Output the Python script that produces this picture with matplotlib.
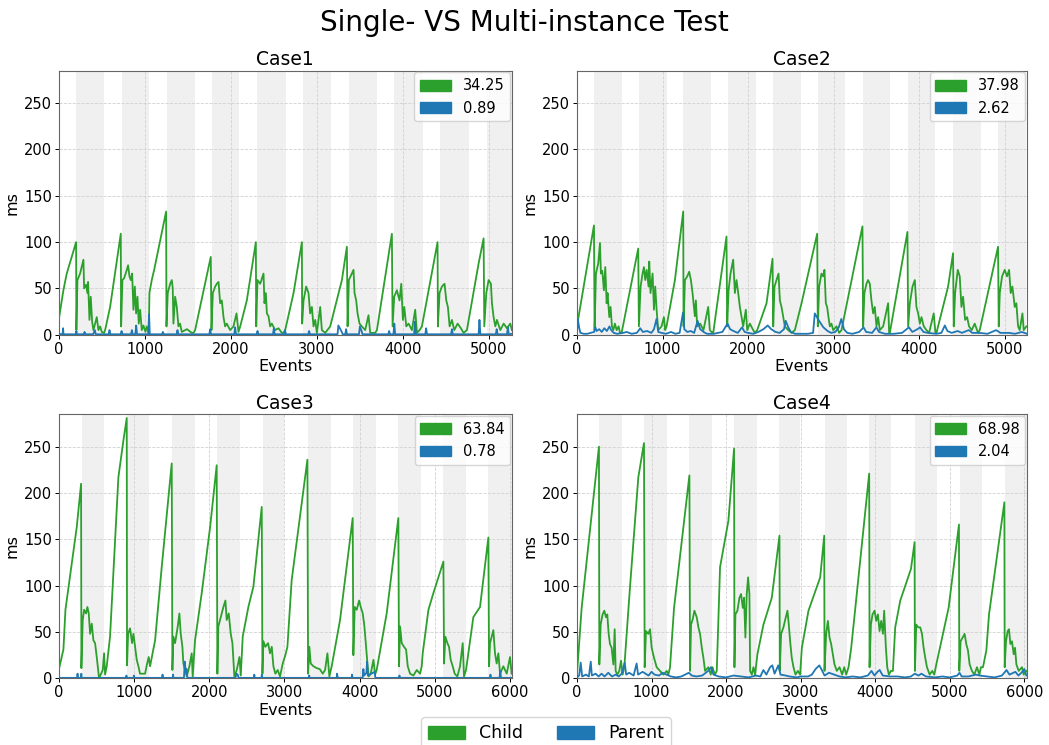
import matplotlib
matplotlib.use("Agg")
import matplotlib.pyplot as plt
from matplotlib.patches import Patch

# ---------------- data ----------------
CASES = ["Case1", "Case2", "Case3", "Case4"]
CHILD_MEAN = [34.25, 37.98, 63.84, 68.98]
PARENT_MEAN = [0.89, 2.62, 0.78, 2.04]
X_MAX = [5267, 5260, 6025, 6035]

case1_child = [
    (0, 16), (54, 48), (93, 66), (202, 100), (205, 5), (217, 59), (248, 66), (287, 81), (295, 50), (318, 54),
    (333, 45), (341, 57), (357, 16), (372, 41), (388, 14), (403, 5), (422, 12), (442, 19), (461, 5), (481, 9),
    (500, 3), (527, 2),
    (539, 5), (597, 30), (721, 109), (725, 9), (740, 59), (760, 61), (791, 70), (806, 75), (822, 63), (837, 59),
    (853, 66), (868, 27), (884, 52), (899, 23), (915, 41), (930, 12), (946, 27), (965, 5), (984, 10), (1008, 3),
    (1023, 9), (1047, 2),
    (1054, 45), (1081, 59), (1109, 70), (1248, 133), (1252, 9), (1267, 45), (1295, 55), (1314, 59), (1325, 50),
    (1333, 12), (1353, 41), (1372, 30), (1391, 9), (1410, 12), (1430, 3), (1490, 6), (1547, 2), (1566, 2),
    (1585, 5), (1767, 84), (1775, 5), (1791, 45), (1818, 52), (1837, 55), (1857, 57), (1876, 34), (1895, 37),
    (1915, 19), (1934, 9), (1953, 12), (1992, 5), (2031, 9), (2066, 23), (2089, 3),
    (2109, 9), (2186, 37), (2291, 100), (2295, 9), (2310, 59), (2341, 55), (2380, 66), (2391, 34), (2407, 45),
    (2419, 23), (2438, 20), (2457, 9), (2477, 12), (2515, 5), (2554, 7), (2593, 2), (2612, 2),
    (2632, 5), (2729, 45), (2826, 100), (2829, 12), (2845, 37), (2876, 52), (2903, 45), (2922, 23), (2942, 30),
    (2961, 9), (2981, 16), (3000, 2), (3039, 30), (3058, 5), (3097, 2),
    (3155, 9), (3291, 59), (3349, 95), (3357, 9), (3372, 59), (3407, 66), (3426, 70), (3438, 45), (3457, 37),
    (3473, 23), (3496, 12), (3523, 9), (3562, 5), (3600, 21), (3620, 2), (3678, 2),
    (3698, 5), (3872, 109), (3880, 9), (3899, 41), (3930, 48), (3961, 37), (3981, 55), (4000, 16), (4016, 30),
    (4039, 9), (4066, 12), (4105, 5), (4143, 27), (4163, 2), (4194, 5),
    (4221, 9), (4403, 100), (4407, 9), (4426, 45), (4453, 52), (4484, 55), (4504, 37), (4523, 30), (4543, 9),
    (4570, 16), (4597, 5), (4636, 12), (4674, 7), (4705, 2),
    (4744, 5), (4880, 77), (4938, 104), (4946, 9), (4969, 45), (4996, 59), (5023, 55), (5035, 34), (5054, 19),
    (5074, 9), (5093, 16), (5132, 5), (5171, 12), (5209, 7), (5248, 12), (5267, 5),
]
case1_parent = [
    (0, 1), (45, 0.5), (50, 7), (55, 0.5), (200, 0.5), (205, 4), (210, 0.5), (290, 0.5), (300, 3), (310, 0.5),
    (400, 0.5), (420, 5), (430, 0.5), (580, 0.5), (590, 5), (600, 0.5), (720, 0.5), (730, 4), (740, 0.5),
    (840, 0.5), (850, 5), (860, 0.5), (890, 0.5), (900, 10), (910, 0.5), (1040, 0.5), (1050, 22), (1058, 0.5),
    (1200, 0.5), (1210, 3), (1220, 0.5), (1370, 0.5), (1380, 5), (1390, 0.5), (1750, 0.5), (1760, 6), (1770, 0.5),
    (2040, 0.5), (2050, 8), (2060, 0.5), (2300, 0.5), (2310, 4), (2320, 0.5), (2490, 0.5), (2500, 7), (2510, 0.5),
    (2620, 0.5), (2630, 5), (2640, 0.5), (2900, 0.5), (2910, 4), (2920, 0.5), (3240, 0.5), (3250, 10), (3290, 3),
    (3300, 0.5), (3330, 0.5), (3340, 6), (3350, 0.5), (3490, 0.5), (3500, 9), (3520, 4), (3530, 0.5), (3830, 0.5),
    (3840, 4), (3850, 0.5), (3890, 0.5), (3900, 12), (3910, 0.5), (4130, 0.5), (4140, 14), (4150, 0.5),
    (4260, 0.5), (4270, 7), (4280, 0.5), (4560, 0.5), (4570, 6), (4580, 0.5), (4880, 0.5), (4890, 16), (4900, 0.5),
    (5080, 0.5), (5090, 6), (5100, 0.5), (5210, 0.5), (5220, 8), (5230, 0.5), (5267, 1),
]

case2_child = [
    (0, 9), (199, 118), (206, 5), (222, 66), (249, 77), (269, 99), (280, 66), (296, 69), (315, 48), (331, 73),
    (347, 34), (358, 45), (378, 19), (393, 30), (409, 9), (425, 5), (444, 12), (464, 5), (487, 9), (503, 2),
    (522, 2), (716, 93), (724, 9), (744, 52), (767, 66), (783, 73), (798, 59), (815, 70), (837, 52), (845, 79),
    (860, 45), (884, 66), (900, 27), (915, 52), (931, 27), (950, 5), (989, 9), (1016, 19), (1031, 5),
    (1047, 9), (1145, 59), (1242, 133), (1246, 9), (1262, 59), (1289, 63), (1312, 68), (1332, 59), (1351, 45),
    (1367, 30), (1378, 20), (1390, 37), (1405, 9), (1440, 12), (1479, 5), (1534, 30), (1553, 5), (1584, 2),
    (1593, 2), (1748, 106), (1756, 9), (1772, 48), (1795, 66), (1826, 81), (1846, 45), (1865, 59), (1885, 45),
    (1904, 30), (1924, 19), (1943, 9), (1974, 27), (1990, 5), (2021, 12), (2060, 5), (2080, 2),
    (2107, 5), (2216, 34), (2286, 82), (2294, 9), (2309, 52), (2333, 59), (2356, 66), (2372, 37), (2391, 30),
    (2411, 19), (2430, 9), (2469, 5), (2508, 2),
    (2547, 5), (2625, 34), (2808, 109), (2815, 9), (2831, 52), (2858, 66), (2878, 63), (2893, 70), (2909, 34),
    (2924, 30), (2940, 19), (2956, 9), (2975, 12), (2995, 5), (3034, 9), (3065, 2),
    (3092, 5), (3337, 117), (3345, 9), (3360, 45), (3384, 55), (3403, 59), (3423, 55), (3442, 37), (3462, 23),
    (3481, 30), (3501, 9), (3520, 19), (3540, 5), (3579, 9), (3637, 34), (3649, 2),
    (3657, 2), (3863, 111), (3871, 9), (3891, 34), (3922, 52), (3949, 59), (3968, 30), (3988, 23), (4008, 12),
    (4027, 19), (4054, 9), (4085, 5), (4116, 2), (4170, 23), (4190, 2),
    (4202, 2), (4338, 52), (4396, 88), (4404, 9), (4420, 45), (4451, 70), (4474, 63), (4494, 30), (4513, 41),
    (4537, 16), (4560, 19), (4583, 9), (4614, 5), (4649, 12), (4688, 2),
    (4708, 5), (4922, 95), (4930, 9), (4942, 45), (4969, 63), (5000, 70), (5027, 63), (5051, 70), (5070, 45),
    (5090, 52), (5117, 30), (5136, 34), (5156, 9), (5175, 5), (5207, 23), (5222, 5), (5253, 9),
]
case2_parent = [
    (0, 2), (10, 17), (25, 8), (40, 2), (80, 1), (120, 1), (200, 3), (215, 8), (230, 4), (260, 6), (290, 3),
    (320, 7), (350, 4), (380, 9), (400, 5), (430, 2), (470, 1), (540, 2), (580, 3), (640, 1), (700, 2), (740, 7),
    (770, 3), (820, 4), (870, 2), (900, 6), (930, 17), (950, 3), (990, 2), (1040, 1), (1100, 3), (1150, 1),
    (1200, 2), (1240, 24), (1255, 6), (1290, 3), (1330, 4), (1370, 2), (1410, 15), (1440, 6), (1480, 3),
    (1520, 1), (1600, 1), (1650, 2), (1700, 3), (1760, 12), (1790, 6), (1830, 4), (1880, 2), (1930, 8),
    (1960, 3), (2000, 2), (2060, 1), (2120, 3), (2180, 6), (2230, 10), (2270, 6), (2320, 3), (2370, 2),
    (2420, 6), (2440, 15), (2470, 8), (2500, 3), (2550, 1), (2620, 1), (2700, 1), (2760, 2), (2780, 23),
    (2830, 15), (2880, 8), (2930, 4), (2970, 2), (3020, 3), (3060, 8), (3090, 17), (3120, 6), (3160, 2),
    (3220, 1), (3300, 3), (3350, 8), (3380, 3), (3450, 2), (3500, 8), (3530, 3), (3600, 1), (3700, 1),
    (3800, 2), (3880, 8), (3920, 3), (3980, 6), (4010, 8), (4050, 3), (4100, 2), (4200, 1), (4260, 2),
    (4300, 10), (4330, 4), (4380, 2), (4450, 4), (4500, 2), (4580, 5), (4620, 2), (4700, 2), (4800, 1),
    (4900, 5), (4950, 2), (5050, 2), (5120, 1), (5200, 3), (5260, 1),
]

case3_child = [
    (0, 9), (62, 31), (89, 74), (239, 163), (297, 210), (301, 11), (319, 63), (337, 74), (363, 70), (381, 77),
    (399, 70), (417, 48), (439, 59), (461, 41), (483, 38), (505, 23), (523, 9), (536, 0), (563, 5), (585, 9),
    (603, 27), (616, 4),
    (638, 13), (682, 45), (793, 217), (860, 257), (904, 281), (908, 14), (922, 48), (948, 54), (975, 38),
    (993, 48), (1015, 34), (1037, 20), (1059, 13), (1081, 5), (1115, 5), (1148, 5), (1170, 14), (1196, 23),
    (1214, 13), (1281, 41), (1369, 120), (1502, 232), (1511, 9), (1524, 45), (1547, 38), (1582, 56), (1604, 70),
    (1622, 48), (1644, 34), (1657, 16), (1680, 9), (1702, 2), (1737, 13), (1768, 27), (1781, 2),
    (1812, 41), (1901, 92), (2012, 163), (2100, 230), (2109, 5), (2122, 56), (2145, 63), (2167, 70), (2189, 77),
    (2216, 84), (2233, 63), (2260, 70), (2287, 48), (2309, 38), (2322, 20), (2335, 2), (2367, 9), (2402, 23),
    (2420, 3),
    (2446, 45), (2521, 77), (2588, 99), (2699, 185), (2708, 5), (2721, 40), (2747, 34), (2783, 38), (2809, 27),
    (2832, 34), (2854, 13), (2880, 5), (2911, 9), (2942, 2), (2978, 16), (3013, 25),
    (3040, 34), (3097, 106), (3306, 236), (3315, 5), (3332, 34), (3350, 16), (3386, 13), (3430, 11), (3470, 10),
    (3510, 5), (3541, 9), (3572, 27), (3598, 2),
    (3629, 13), (3740, 63), (3908, 173), (3917, 25), (3935, 77), (3962, 74), (3993, 84), (4015, 77), (4042, 70),
    (4064, 56), (4086, 34), (4104, 16), (4121, 2), (4148, 5), (4184, 20), (4206, 4),
    (4227, 9), (4360, 70), (4515, 173), (4524, 13), (4538, 56), (4560, 38), (4591, 34), (4618, 31), (4640, 13),
    (4671, 5), (4715, 3), (4760, 9), (4804, 5), (4826, 13),
    (4839, 27), (4915, 74), (4981, 92), (5114, 126), (5123, 16), (5140, 45), (5167, 38), (5189, 34), (5211, 20),
    (5238, 13), (5264, 5), (5300, 2), (5335, 13), (5371, 38), (5388, 2),
    (5415, 9), (5512, 66), (5601, 77), (5712, 152), (5721, 13), (5734, 38), (5756, 45), (5778, 52), (5800, 27),
    (5822, 16), (5845, 27), (5867, 5), (5911, 13), (5956, 5), (6000, 23), (6022, 5),
]
case3_parent = [
    (0, 0.5), (245, 0.5), (250, 5), (255, 0.5), (295, 0.5), (300, 5), (305, 0.5), (895, 0.5), (900, 3),
    (905, 0.5), (995, 0.5), (1000, 3), (1005, 0.5), (1375, 0.5), (1380, 4), (1385, 0.5), (1515, 0.5), (1520, 4),
    (1525, 0.5), (1665, 0.5), (1675, 18), (1690, 6), (1700, 10), (1710, 0.5), (2350, 0.5), (2360, 5), (2380, 4),
    (2390, 0.5), (2595, 0.5), (2600, 4), (2605, 0.5), (2695, 0.5), (2700, 4), (2705, 0.5), (3325, 0.5),
    (3330, 3), (3335, 0.5), (3695, 0.5), (3700, 5), (3710, 0.5), (3895, 0.5), (3900, 4), (3905, 0.5),
    (4040, 0.5), (4050, 10), (4060, 3), (4090, 6), (4100, 18), (4110, 3), (4200, 7), (4210, 0.5), (4525, 0.5),
    (4530, 3), (4535, 0.5), (5735, 0.5), (5740, 4), (5745, 0.5), (5860, 0.5), (5870, 8), (5880, 0.5), (6022, 0.5),
]

case4_child = [
    (0, 4), (63, 76), (295, 250), (300, 15), (318, 58), (344, 69), (367, 73), (389, 66), (407, 69), (425, 48),
    (443, 37), (465, 33), (488, 15), (506, 53), (519, 8), (541, 4), (568, 8), (591, 19), (613, 4),
    (635, 12), (711, 98), (823, 217), (899, 254), (908, 12), (926, 51), (957, 48), (980, 53), (1002, 33),
    (1034, 22), (1069, 12), (1114, 8), (1159, 4), (1204, 8), (1226, 4),
    (1248, 12), (1302, 76), (1508, 219), (1517, 8), (1530, 58), (1553, 64), (1575, 73), (1606, 66), (1629, 55),
    (1651, 48), (1674, 33), (1696, 22), (1718, 8), (1763, 12), (1794, 4), (1817, 12), (1850, 4),
    (1875, 8), (1919, 120), (2031, 170), (2107, 248), (2112, 12), (2125, 69), (2152, 73), (2179, 87), (2201, 91),
    (2224, 76), (2241, 87), (2259, 44), (2277, 91), (2295, 109), (2313, 91), (2322, 8), (2345, 4), (2367, 12),
    (2389, 4),
    (2420, 26), (2501, 58), (2613, 87), (2716, 154), (2720, 8), (2738, 48), (2769, 55), (2801, 66), (2823, 73),
    (2841, 58), (2859, 40), (2881, 22), (2904, 12), (2931, 4), (2962, 8), (2993, 4),
    (3016, 33), (3105, 73), (3262, 109), (3316, 154), (3320, 8), (3342, 48), (3365, 62), (3387, 44), (3409, 37),
    (3432, 26), (3454, 15), (3485, 8), (3521, 12), (3557, 4), (3584, 12), (3611, 4),
    (3642, 12), (3678, 33), (3919, 221), (3924, 12), (3942, 58), (3964, 69), (3991, 73), (4013, 62), (4036, 69),
    (4058, 51), (4080, 62), (4103, 48), (4120, 73), (4143, 33), (4161, 12), (4183, 4), (4210, 8),
    (4237, 8), (4268, 55), (4336, 84), (4479, 118), (4528, 147), (4532, 8), (4550, 58), (4577, 55), (4604, 55),
    (4627, 48), (4649, 33), (4671, 22), (4694, 12), (4730, 4), (4765, 8), (4792, 4),
    (4819, 15), (4984, 76), (5123, 166), (5127, 8), (5145, 40), (5172, 44), (5199, 48), (5221, 37), (5244, 30),
    (5266, 15), (5297, 8), (5329, 4), (5365, 12), (5396, 4), (5418, 12),
    (5445, 12), (5490, 30), (5526, 69), (5732, 190), (5736, 12), (5754, 40), (5776, 51), (5794, 53), (5812, 37),
    (5834, 40), (5857, 26), (5875, 33), (5893, 15), (5924, 8), (5969, 12), (5991, 4), (6027, 8),
]
case4_parent = [
    (0, 1), (30, 3), (50, 17), (70, 2), (120, 4), (160, 2), (185, 18), (200, 3), (250, 5), (290, 2), (330, 5),
    (370, 2), (420, 6), (470, 2), (520, 4), (560, 2), (600, 5), (640, 17), (660, 4), (700, 6), (760, 3),
    (800, 16), (820, 4), (880, 7), (920, 5), (960, 3), (1000, 7), (1040, 4), (1100, 3), (1150, 6), (1200, 4),
    (1260, 2), (1330, 1), (1400, 2), (1450, 4), (1500, 6), (1540, 3), (1600, 2), (1680, 3), (1760, 8),
    (1800, 12), (1830, 4), (1900, 2), (2000, 1), (2100, 3), (2200, 2), (2300, 1), (2400, 3), (2460, 2),
    (2500, 9), (2540, 4), (2590, 12), (2620, 14), (2650, 5), (2700, 14), (2730, 4), (2800, 3), (2850, 2),
    (2950, 1), (3000, 2), (3100, 2), (3150, 4), (3200, 10), (3250, 14), (3290, 8), (3320, 3), (3380, 6),
    (3450, 4), (3520, 2), (3600, 1), (3700, 2), (3800, 1), (3900, 3), (3950, 8), (3990, 3), (4030, 7),
    (4060, 9), (4100, 3), (4200, 2), (4300, 2), (4400, 1), (4480, 2), (4530, 5), (4580, 3), (4620, 5),
    (4680, 2), (4800, 1), (4900, 2), (5000, 1), (5100, 3), (5130, 6), (5160, 2), (5250, 2), (5350, 4),
    (5400, 3), (5500, 2), (5600, 1), (5700, 3), (5760, 9), (5800, 4), (5880, 7), (5920, 3), (5960, 6),
    (6000, 10), (6027, 3),
]

# grey bands (start, end) per case
band_start = [
    [200, 737, 1259, 1783, 2306, 2837, 3368, 3899, 4434, 4977],
    [199, 728, 1242, 1768, 2293, 2812, 3344, 3870, 4396, 4918],
    [305, 904, 1511, 2105, 2713, 3311, 3918, 4516, 5114, 5713],
    [295, 903, 1507, 2111, 2716, 3320, 3919, 4527, 5131, 5736],
]
band_end = [
    [523, 1053, 1581, 2097, 2640, 3167, 3698, 4233, 4763, 5283],
    [522, 1050, 1562, 2088, 2613, 3131, 3664, 4190, 4728, 5254],
    [598, 1201, 1813, 2411, 2996, 3617, 4215, 4818, 5416, 6040],
    [600, 1208, 1808, 2411, 2993, 3620, 4215, 4828, 5432, 6040],
]

CHILD = [case1_child, case2_child, case3_child, case4_child]
PARENT = [case1_parent, case2_parent, case3_parent, case4_parent]

GREEN, BLUE = "#2ca02c", "#1f77b4"

fig = plt.figure(figsize=(10.49, 7.45), dpi=100)
positions = [
    [0.056, 0.5507, 0.432, 0.3544],
    [0.550, 0.5507, 0.429, 0.3544],
    [0.056, 0.0895, 0.432, 0.3544],
    [0.550, 0.0895, 0.429, 0.3544],
]

for i, name in enumerate(CASES):
    ax = fig.add_axes(positions[i])
    for s, e in zip(band_start[i], band_end[i]):
        ax.axvspan(s, e, color="0.94", lw=0, zorder=0)
    cx, cy = zip(*CHILD[i])
    px, py = zip(*PARENT[i])
    ax.plot(cx, cy, color=GREEN, lw=1.3, zorder=3)
    ax.plot(px, py, color=BLUE, lw=1.3, zorder=4)
    ax.set_xlim(0, X_MAX[i])
    ax.set_ylim(0, 285)
    ax.set_yticks([0, 50, 100, 150, 200, 250])
    ax.grid(True, ls="--", lw=0.6, color="0.82", zorder=1)
    ax.set_axisbelow(True)
    ax.tick_params(labelsize=10.5, length=2.7, pad=2.2, width=0.7)
    ax.set_xlabel("Events", fontsize=11.5, labelpad=2)
    ax.set_ylabel("ms", fontsize=11.5, labelpad=3)
    ax.set_title(name, fontsize=13.5, pad=4)
    for sp in ax.spines.values():
        sp.set_color("0.4")
    handles = [Patch(color=GREEN), Patch(color=BLUE)]
    ax.legend(handles, [f"{CHILD_MEAN[i]:.2f}", f"{PARENT_MEAN[i]:.2f}"], loc="upper right",
              fontsize=10.5, handlelength=2.1, handleheight=0.75, borderaxespad=0.12)

fig.suptitle("Single- VS Multi-instance Test", fontsize=20, y=0.988)
fig.legend([Patch(color=GREEN), Patch(color=BLUE)], ["Child", "Parent"], loc="upper center",
           bbox_to_anchor=(0.5205, 0.0372), ncol=2, fontsize=12.5, handlelength=2.1, handleheight=0.75,
           handletextpad=0.8, columnspacing=2.0, borderaxespad=0)
fig.savefig("out.png", dpi=100)
